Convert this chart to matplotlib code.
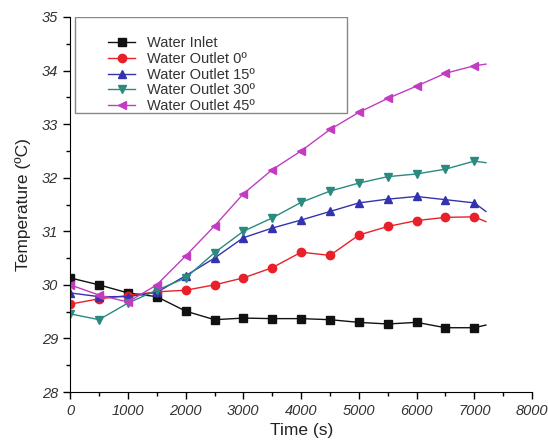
import numpy as np
import matplotlib.pyplot as plt
from matplotlib.ticker import MultipleLocator
from matplotlib.patches import Rectangle

plt.rcParams['font.family'] = ['Liberation Sans', 'DejaVu Sans']

# marker times (s) and readings (deg C)
marker_t = [0, 500, 1000, 1500, 2000, 2500, 3000, 3500, 4000, 4500, 5000, 5500, 6000, 6500, 7000]
end_t = 7200

inlet = [30.13, 30.0, 29.85, 29.78, 29.51, 29.35, 29.38, 29.37, 29.37, 29.35, 29.3, 29.27, 29.3, 29.2, 29.2]
inlet_end = 29.25
outlet_0 = [29.64, 29.74, 29.8, 29.87, 29.9, 30.0, 30.13, 30.32, 30.61, 30.55, 30.93, 31.09, 31.2, 31.26, 31.27]
outlet_0_end = 31.18
outlet_15 = [29.85, 29.78, 29.78, 29.86, 30.17, 30.5, 30.88, 31.06, 31.21, 31.37, 31.53, 31.6, 31.65, 31.59, 31.53]
outlet_15_end = 31.37
outlet_30 = [29.46, 29.35, 29.66, 29.9, 30.13, 30.6, 31.0, 31.25, 31.54, 31.75, 31.9, 32.02, 32.07, 32.16, 32.31]
outlet_30_end = 32.28
outlet_45 = [30.0, 29.81, 29.68, 30.0, 30.54, 31.1, 31.7, 32.15, 32.5, 32.9, 33.22, 33.48, 33.71, 33.95, 34.09]
outlet_45_end = 34.12

labels = ['Water Inlet', 'Water Outlet 0º', 'Water Outlet 15º',
          'Water Outlet 30º', 'Water Outlet 45º']
series = [(inlet, inlet_end), (outlet_0, outlet_0_end), (outlet_15, outlet_15_end),
          (outlet_30, outlet_30_end), (outlet_45, outlet_45_end)]
colors = ['#111111', '#e8202a', '#3333b0', '#2a8a80', '#c23cc2']
markers = ['s', 'o', '^', 'v', '<']

fig = plt.figure(figsize=(5.48, 4.47), dpi=100)
ax = fig.add_axes([0.128, 0.123, 0.843, 0.839])

t_line = marker_t + [end_t]
for (vals, last), lab, c, m in zip(series, labels, colors, markers):
    ax.plot(t_line, vals + [last], color=c, lw=1.0, marker=m, markersize=6,
            markevery=list(range(len(marker_t))), label=lab)

ax.set_xlim(0, 8000)
ax.set_ylim(28, 35)
ax.xaxis.set_major_locator(MultipleLocator(1000))
ax.xaxis.set_minor_locator(MultipleLocator(500))
ax.yaxis.set_major_locator(MultipleLocator(1))
ax.yaxis.set_minor_locator(MultipleLocator(0.5))
ax.spines['top'].set_visible(False)
ax.spines['right'].set_visible(False)
ax.tick_params(which='major', direction='out', length=5, width=1, labelsize=10.5)
ax.tick_params(which='minor', direction='out', length=3, width=1)
for lbl in ax.get_xticklabels() + ax.get_yticklabels():
    lbl.set_fontstyle('italic')
    lbl.set_color('#333333')

ax.set_xlabel('Time (s)', fontsize=12.5, labelpad=4, color='#222222')
ax.set_ylabel('Temperature (ºC)', fontsize=12.5, labelpad=8, color='#222222')

# legend frame is wider than its entries in the original
ax.add_patch(Rectangle((0.011, 0.744), 0.589, 0.256, transform=ax.transAxes,
                       fill=True, facecolor='white', edgecolor='#888888', lw=1.0, zorder=3))
leg = ax.legend(loc='upper left', bbox_to_anchor=(0.082, 0.949), fontsize=10.5,
                frameon=False, handlelength=1.85, labelspacing=0.12, borderpad=0,
                borderaxespad=0, handletextpad=0.8)
leg.set_zorder(4)
for txt in leg.get_texts():
    txt.set_color('#333333')

fig.savefig('out.png', dpi=100)
